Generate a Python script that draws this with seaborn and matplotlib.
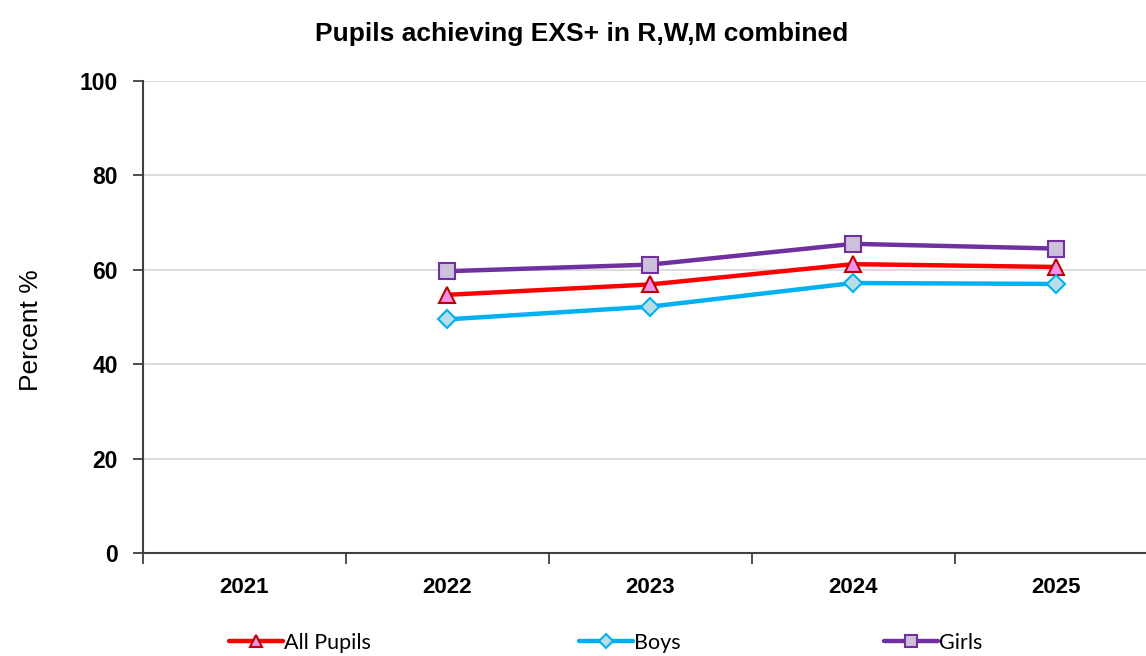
import pandas as pd
import matplotlib
matplotlib.use('Agg')
import matplotlib.pyplot as plt
import seaborn as sns

# values (percent)
years = [2021, 2022, 2023, 2024, 2025]
data_years = [2022, 2023, 2024, 2025]
all_pupils = [54.7, 56.9, 61.2, 60.6]
boys = [49.5, 52.2, 57.2, 57.0]
girls = [59.7, 61.1, 65.5, 64.5]

df = pd.DataFrame({'year': data_years, 'All Pupils': all_pupils, 'Boys': boys, 'Girls': girls})

sns.set_style('white')
plt.rcParams['font.family'] = ['Liberation Sans', 'DejaVu Sans']
plt.rcParams['text.color'] = 'black'
plt.rcParams['axes.labelcolor'] = 'black'
plt.rcParams['xtick.color'] = 'black'
plt.rcParams['ytick.color'] = 'black'

fig = plt.figure(figsize=(11.46, 6.56), dpi=100)
ax = fig.add_axes([143 / 1146, 103 / 656, 1014.5 / 1146, 472 / 656])

# series styles: (line colour, marker, face colour, edge colour)
styles = {
    'All Pupils': ('#FF0000', '^', '#F48FEA', '#C00000'),
    'Boys': ('#00B0F0', 'D', '#B7DEE8', '#00B0F0'),
    'Girls': ('#7030A0', 's', '#CCC0DA', '#7030A0'),
}
for name, (col, mk, fc, ec) in styles.items():
    sns.lineplot(data=df, x='year', y=name, ax=ax, color=col, linewidth=3.2,
                 marker=mk, markersize=11 if mk != 'D' else 9, markerfacecolor=fc,
                 markeredgecolor=ec, markeredgewidth=1.5, label=name, zorder=3)
handles, labels = ax.get_legend_handles_labels()
ax.get_legend().remove()

ax.set_ylim(0, 100)
ax.set_yticks([0, 20, 40, 60, 80, 100])
ax.set_xlim(2020.5, 2025.5)
ax.set_xticks(years)
ax.set_xticklabels([str(y) for y in years])
ax.set_xticks([y - 0.5 for y in years] + [2025.5], minor=True)
ax.tick_params(bottom=True, left=True)
ax.tick_params(axis='x', which='major', length=0, pad=17, labelsize=16)
ax.tick_params(axis='x', which='minor', bottom=True, length=8, width=1.3, color='#404040', direction='out')
ax.tick_params(axis='y', length=7, width=1.3, color='#404040', direction='out', pad=11, labelsize=16.5)
for lab in ax.get_xticklabels() + ax.get_yticklabels():
    lab.set_fontweight('bold')

ax.yaxis.grid(True, color='#D9D9D9', linewidth=1.3)
ax.xaxis.grid(False)
for s in ['top', 'right']:
    ax.spines[s].set_visible(False)
for s in ['left', 'bottom']:
    ax.spines[s].set_color('#404040')
    ax.spines[s].set_linewidth(1.5)

ax.set_xlabel('')
ax.set_ylabel('')
fig.text(31 / 1146, 1 - 330 / 656, 'Percent %', rotation=90, ha='center', va='center', fontsize=19)

fig.text(582 / 1146, 1 - 34 / 656, 'Pupils achieving EXS+ in R,W,M combined',
         ha='center', va='center', fontsize=19, fontweight='bold')

# legend entries spread along the bottom like the original
leg_x = [222, 572, 877]
for h, l, x in zip(handles, labels, leg_x):
    fig.legend([h], [l], loc='center left', bbox_to_anchor=(x / 1146 - 0.011, 13 / 656),
               frameon=False, handlelength=2.5, handletextpad=0.05, markerscale=0.8,
               prop={'family': ['Lato', 'DejaVu Sans'], 'size': 15.5})

fig.savefig('out.png', dpi=100)
